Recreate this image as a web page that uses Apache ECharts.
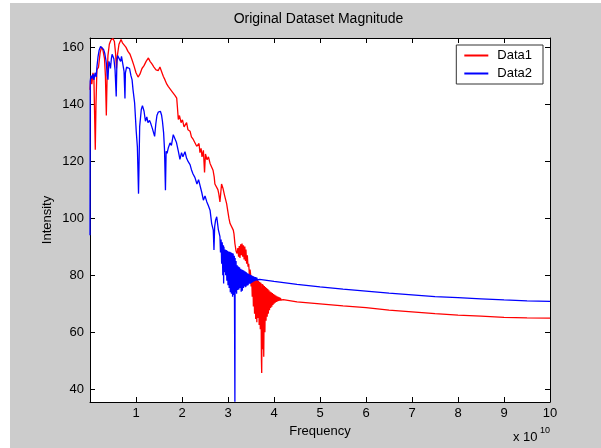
<!DOCTYPE html>
<html>
<head>
<meta charset="utf-8">
<script src="https://cdn.jsdelivr.net/npm/echarts@6/dist/echarts.min.js"></script>
<style>
  html, body { margin: 0; padding: 0; background: #ffffff; }
  #frame { position: absolute; left: 10px; top: 3px; width: 591px; height: 445px; background: #cccccc; }
  #chart { position: absolute; left: 0; top: 0; width: 601px; height: 448px; }
</style>
</head>
<body>
<div id="frame"></div>
<div id="chart"></div>
<script>
// Frequency in units of 1e10 Hz, magnitude in intensity units.
const data1Points = [
  [0.000,145],[0.020,150],[0.040,147],[0.065,151],[0.085,149],[0.115,124],[0.130,140],[0.150,152],
  [0.185,153],[0.220,158],[0.250,160],[0.280,159],[0.315,156],[0.335,150],[0.355,136],[0.370,148],
  [0.390,157],[0.420,161],[0.455,162.5],[0.500,163],[0.530,162],[0.555,158],[0.575,152.5],[0.595,157],
  [0.630,161],[0.675,162.7],[0.705,161.5],[0.740,161.8],[0.780,160],[0.825,158.5],[0.870,157.5],
  [0.915,155.5],[0.955,153.5],[1.000,151],[1.045,149.5],[1.085,150.5],[1.130,152.5],[1.175,153.5],
  [1.220,155],[1.270,156.2],[1.305,155],[1.350,154],[1.390,153],[1.435,152],[1.485,151.8],[1.520,153],
  [1.565,151],[1.595,149.7],[1.630,148.5],[1.670,147],[1.700,146.2],[1.740,145.5],[1.780,144.5],
  [1.810,144.3],[1.850,143],[1.885,142.1],[1.900,139],[1.920,134.6],[1.945,136],[1.980,133.5],
  [2.010,134.5],[2.045,132],[2.065,132.2],[2.100,133.5],[2.130,131],[2.175,130.5],[2.205,128.5],
  [2.245,127.6],[2.280,128.3],[2.320,125.2],[2.345,124.8],[2.370,126.2],[2.390,123],[2.415,124.5],
  [2.435,121.5],[2.465,123.8],[2.490,116],[2.510,122.5],[2.545,120.5],[2.575,121.5],[2.610,119.2],
  [2.640,118.5],[2.675,116.8],[2.700,114.5],[2.715,112],[2.750,111.5],[2.780,110],[2.800,108.5],
  [2.825,105.7],[2.860,112],[2.890,110.5],[2.925,108],[2.970,105.1],[3.000,102],[3.020,100],
  [3.045,98.1],[3.075,97.5],[3.115,95.8],[3.130,94.5],[3.150,91.1],[3.175,88.5],[3.195,87.6],
  [3.215,89.5],[3.230,86.5],[3.245,90.2],[3.260,86],[3.275,90.8],[3.290,87],[3.305,91.1],[3.320,86.5],
  [3.335,90.5],[3.350,85.5],[3.365,90],[3.380,85],[3.390,89],[3.405,84],[3.420,87],[3.435,83],
  [3.450,84],[3.465,80],[3.480,82],
  [3.490,80.5],[3.502,76],[3.515,79.8],[3.527,72.4],[3.540,79.5],[3.552,69],[3.565,79.2],[3.577,66.5],
  [3.590,78.9],[3.602,64.6],[3.615,78.6],[3.627,63.5],[3.640,78.3],[3.652,65],[3.665,78],[3.677,62.5],
  [3.690,77.6],[3.702,61],[3.715,77.3],[3.727,50],[3.733,45.7],[3.745,76.9],[3.752,54],[3.765,76.6],
  [3.777,51.4],[3.790,76.2],[3.802,60],[3.815,75.8],[3.827,64],[3.840,75.5],[3.852,65.4],[3.865,75.1],
  [3.877,66.5],[3.890,74.7],[3.902,67.7],[3.915,74.3],[3.927,68.5],[3.940,74],[3.952,68.9],[3.965,73.7],
  [3.977,69.5],[3.990,73.4],[4.002,70],[4.015,73.1],[4.027,70.3],[4.040,72.8],[4.052,70.6],[4.065,72.6],
  [4.077,70.8],[4.090,72.4],[4.102,71],[4.115,72.2],[4.127,71.1],[4.140,72],[4.152,71.2],[4.165,71.8],
  [4.177,71.3],[4.190,71.6],[4.200,71.4],
  [4.500,70.6],[5.000,69.9],[5.500,69.2],[6.000,68.6],[6.500,67.7],[7.000,67.1],[7.500,66.5],
  [8.000,66.0],[8.500,65.6],[9.000,65.2],[9.500,65.0],[10.000,64.9]
];

const data2Points = [
  [0.000,94],[0.005,148],[0.020,150],[0.040,149],[0.065,150.5],[0.085,148.5],[0.110,151],[0.135,149.5],
  [0.150,153],[0.175,156.7],[0.200,159],[0.230,160.2],[0.260,160],[0.295,159.2],[0.320,157.9],
  [0.340,156],[0.355,154.4],[0.375,150],[0.390,148.6],[0.410,155],[0.430,154],[0.445,152.5],
  [0.465,156],[0.480,157.5],[0.500,156.7],[0.520,155.8],[0.545,152],[0.570,142.7],[0.585,155],
  [0.600,157],[0.620,157.2],[0.640,156.5],[0.665,155],[0.685,156.8],[0.715,157.3],[0.740,151.5],
  [0.760,142],[0.770,151],[0.795,153],[0.825,153.2],[0.860,152.5],[0.890,150],[0.915,148.5],
  [0.935,145.1],[0.970,140.4],[1.005,130.5],[1.030,125],[1.055,108.6],[1.065,118],[1.080,132.2],
  [1.115,138.1],[1.140,139.5],[1.175,137.5],[1.205,134],[1.235,135.5],[1.260,133.5],[1.295,134.3],
  [1.325,133],[1.355,131.5],[1.405,128.7],[1.430,133],[1.455,136],[1.485,137.2],[1.510,136.5],
  [1.530,137.5],[1.555,136.2],[1.575,134],[1.600,130],[1.620,124],[1.640,109.8],[1.655,123.5],
  [1.675,122.7],[1.700,124.5],[1.740,126.4],[1.770,125.5],[1.810,129.3],[1.850,129.2],[1.880,126.5],
  [1.920,123.5],[1.955,120.6],[1.990,123],[2.020,121.5],[2.065,123.3],[2.100,121],[2.135,119.8],
  [2.175,118.8],[2.205,117],[2.240,115.5],[2.280,114.3],[2.325,112],[2.360,113.5],[2.390,113.3],
  [2.430,109],[2.465,106.3],[2.500,107.8],[2.540,105.7],[2.570,104.5],[2.610,102.8],[2.645,98.1],
  [2.680,95.8],[2.695,88.8],[2.710,97],[2.730,99.3],[2.755,100.5],[2.790,96],[2.825,93.5],
  [2.837,88],[2.850,92.5],[2.862,84],[2.875,91.5],[2.887,80],[2.900,90.5],[2.905,77.1],[2.912,90],
  [2.925,81],[2.937,89],[2.950,80],[2.962,88.8],[2.975,78],[2.987,88.6],[3.000,76.5],[3.012,88.3],
  [3.025,75.5],[3.037,88.2],[3.050,74],[3.062,88],[3.075,73.5],[3.087,87.8],[3.100,72.4],[3.112,87.6],
  [3.125,73],[3.137,86.8],[3.150,35.6],[3.155,86],[3.162,74],[3.175,85],[3.187,73.5],[3.200,83.5],
  [3.212,74.8],[3.225,83],[3.237,75],[3.250,82.8],[3.262,75.5],[3.275,82.2],[3.287,74.2],[3.300,82],
  [3.312,74.5],[3.325,81.8],[3.337,75.5],[3.350,81.5],[3.362,76],[3.375,81.3],[3.387,75.8],[3.400,81],
  [3.412,76.3],[3.425,80.7],[3.437,76.5],[3.450,80.5],[3.462,77],[3.475,80.2],[3.487,77],[3.500,80],
  [3.512,77.3],[3.525,79.8],[3.537,77.5],[3.550,79.6],[3.562,77.8],[3.575,79.4],[3.587,78],[3.600,79.3],
  [3.612,78.2],[3.625,79.1],[3.637,78.3],[3.650,79],[3.662,78.4],[3.675,78.9],[3.687,78.5],[3.700,78.7],
  [4.000,77.8],[4.500,76.8],[5.000,75.9],[5.500,75.1],[6.000,74.4],[6.500,73.7],[7.000,73.1],
  [7.500,72.5],[8.000,72.1],[8.500,71.7],[9.000,71.3],[9.500,71.0],[10.000,70.8]
];

const seriesNames = ['Data1', 'Data2'];
const seriesColors = ['#ff0000', '#0000ff'];
const freqTicks = [1, 2, 3, 4, 5, 6, 7, 8, 9, 10];
const intensityTicks = [40, 60, 80, 100, 120, 140, 160];
const freqRange = [0, 10];
const intensityRange = [35.5, 163.2];

const FONT = 'Liberation Sans, Arial, Helvetica, sans-serif';
const chart = echarts.init(document.getElementById('chart'), null, { renderer: 'canvas' });

const tickStyle = { inside: true, length: 5, lineStyle: { color: '#000', width: 1 } };
const lineAxis = { show: true, onZero: false, lineStyle: { color: '#000', width: 1 } };

chart.setOption({
  animation: false,
  backgroundColor: 'transparent',
  legend: {
    data: seriesNames,
    orient: 'vertical',
    right: 58,
    top: 45,
    itemWidth: 24,
    itemHeight: 12,
    itemGap: 3,
    padding: [3, 11, 3, 7],
    // plain line keys: hide the marker that line series put in the middle
    itemStyle: { opacity: 0 },
    backgroundColor: '#ffffff',
    borderColor: '#333333',
    borderWidth: 1,
    borderRadius: 0,
    textStyle: { fontFamily: FONT, fontSize: 13, color: '#000', padding: [0, 0, 0, 4], lineHeight: 15 }
  },
  grid: {
    left: 90, top: 38, right: 51, bottom: 46,
    show: true, backgroundColor: '#ffffff', borderWidth: 0
  },
  xAxis: [
    {
      type: 'value', min: freqRange[0], max: freqRange[1], interval: 1,
      name: 'Frequency', nameLocation: 'middle', nameGap: 23, nameMoveOverlap: false,
      nameTextStyle: { fontFamily: FONT, fontSize: 13, color: '#000' },
      axisLine: lineAxis, axisTick: tickStyle, splitLine: { show: false },
      axisLabel: {
        fontFamily: FONT, fontSize: 13, color: '#000', margin: 5,
        customValues: freqTicks
      }
    },
    {
      type: 'value', position: 'top', min: freqRange[0], max: freqRange[1], interval: 1,
      axisLine: lineAxis, axisTick: tickStyle, splitLine: { show: false },
      axisLabel: { show: false }
    }
  ],
  yAxis: [
    {
      type: 'value', min: intensityRange[0], max: intensityRange[1],
      name: 'Intensity', nameLocation: 'middle', nameGap: 36, nameMoveOverlap: false,
      nameTextStyle: { fontFamily: FONT, fontSize: 13, color: '#000' },
      axisLine: lineAxis,
      axisTick: Object.assign({ customValues: intensityTicks }, tickStyle),
      splitLine: { show: false },
      axisLabel: {
        fontFamily: FONT, fontSize: 13, color: '#000', margin: 6,
        customValues: intensityTicks
      }
    },
    {
      type: 'value', position: 'right', min: intensityRange[0], max: intensityRange[1],
      axisLine: lineAxis,
      axisTick: Object.assign({ customValues: intensityTicks }, tickStyle),
      splitLine: { show: false },
      axisLabel: { show: false }
    }
  ],
  graphic: [
    {
      type: 'text', x: 318.5, y: 19,
      style: {
        text: 'Original Dataset Magnitude', font: '14px ' + FONT, fill: '#000',
        textAlign: 'center', textVerticalAlign: 'middle'
      }
    },
    {
      type: 'text', left: 513, top: 431,
      style: { text: 'x 10', font: '13px ' + FONT, fill: '#000' }
    },
    {
      type: 'text', left: 540, top: 426,
      style: { text: '10', font: '9px ' + FONT, fill: '#000' }
    }
  ],
  series: [
    {
      name: seriesNames[0], type: 'line', data: data1Points,
      xAxisIndex: 0, yAxisIndex: 0,
      symbol: 'none', showSymbol: false, color: seriesColors[0],
      lineStyle: { color: seriesColors[0], width: 1.3 }, itemStyle: { color: seriesColors[0] },
      emphasis: { disabled: true }, z: 2
    },
    {
      name: seriesNames[1], type: 'line', data: data2Points,
      xAxisIndex: 0, yAxisIndex: 0,
      symbol: 'none', showSymbol: false, color: seriesColors[1],
      lineStyle: { color: seriesColors[1], width: 1.3 }, itemStyle: { color: seriesColors[1] },
      emphasis: { disabled: true }, z: 3
    }
  ]
});
</script>
</body>
</html>
